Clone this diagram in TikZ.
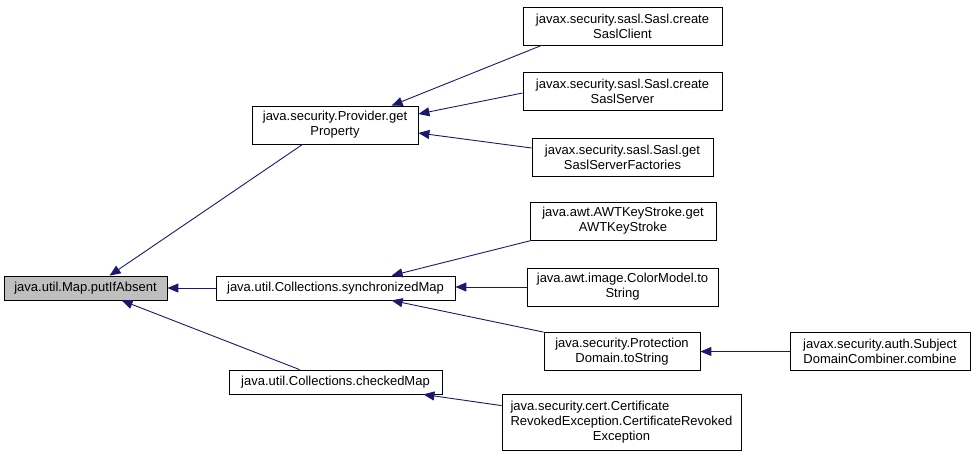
\documentclass[tikz,border=0pt]{standalone}
\usepackage{fontspec}
\setmainfont{Liberation Sans}
\usetikzlibrary{arrows.meta,calc}
\definecolor{edgeblue}{HTML}{191970}
\definecolor{graybox}{HTML}{BFBFBF}
\tikzset{
  box/.style={draw=black, line width=0.8pt, fill=white, align=center, inner sep=0pt,
    font=\fontsize{13}{15}\selectfont},
  edge/.style={draw=edgeblue, line width=0.9pt, -{Triangle[length=11pt,width=9pt]}}
}
\begin{document}
\begin{tikzpicture}[x=1pt,y=-1pt]
\useasboundingbox (0,0) rectangle (975,459);
% left
\node[box, fill=graybox, minimum width=163, minimum height=24] (A) at (85.5,288) {java.util.Map.putIfAbsent};
\node[box, minimum width=166, minimum height=38] (B) at (335,125) {java.security.Provider.get\\Property};
\node[box, minimum width=239, minimum height=24] (C) at (335.5,288) {java.util.Collections.synchronizedMap};
\node[box, minimum width=213, minimum height=24] (D) at (335.5,382) {java.util.Collections.checkedMap};
% right column
\node[box, minimum width=199, minimum height=38] (E) at (622.5,26) {javax.security.sasl.Sasl.create\\SaslClient};
\node[box, minimum width=199, minimum height=38] (F) at (622.5,91) {javax.security.sasl.Sasl.create\\SaslServer};
\node[box, minimum width=181, minimum height=38] (G) at (622.5,157) {javax.security.sasl.Sasl.get\\SaslServerFactories};
\node[box, minimum width=186, minimum height=38] (H) at (623,221) {java.awt.AWTKeyStroke.get\\AWTKeyStroke};
\node[box, minimum width=191, minimum height=38] (I) at (622.5,287) {java.awt.image.ColorModel.to\\String};
\node[box, minimum width=156, minimum height=38] (J) at (622,351.5) {java.security.Protection\\Domain.toString};
\node[box, minimum width=239, minimum height=56] (K) at (621.5,422) {\rlap{java.security.cert.Certificate}\phantom{RevokedException.CertificateRevoked}\\RevokedException.CertificateRevoked\\Exception};
\node[box, minimum width=180, minimum height=38] (L) at (880,351.5) {javax.security.auth.Subject\\DomainCombiner.combine};
% edges
\draw[edge] ($(B.south west)+(51,0)$) -- ($(A.north west)+(106,0)$);
\draw[edge] (C.west) -- (C.west -| A.east);
\draw[edge] ($(D.north west)+(71,0)$) -- ($(A.south west)+(118,0)$);
\draw[edge] ($(E.south west)+(19,0)$) -- ($(B.north west)+(140,0)$);
\draw[edge] ($(F.west)+(0,2)$) -- ($(B.east)+(0,-11)$);
\draw[edge] ($(G.west)+(0,-9)$) -- ($(B.east)+(0,8)$);
\draw[edge] ($(H.south west)+(2,0)$) -- ($(C.north west)+(176,0)$);
\draw[edge] (I.west) -- (I.west -| C.east);
\draw[edge] (J.north west) -- ($(C.south west)+(176,0)$);
\draw[edge] (L.west) -- (L.west -| J.east);
\draw[edge] ($(K.north west)+(0,12)$) -- ($(D.south east)+(-19,0)$);
\end{tikzpicture}
\end{document}
